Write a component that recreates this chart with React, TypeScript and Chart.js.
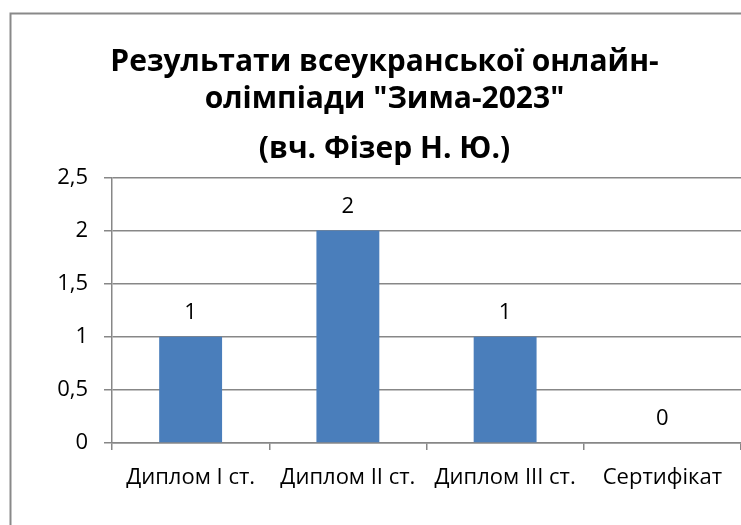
import React, { useEffect, useRef } from "react";
import { Chart, registerables } from "chart.js";

Chart.register(...registerables);

const categories = ["Диплом I ст.", "Диплом II ст.", "Диплом III ст.", "Сертифікат"];
const values = [1, 2, 1, 0];
const yTicks = [0, 0.5, 1, 1.5, 2, 2.5];
const titleLines = ["Результати всеукранської онлайн-", "олімпіади \"Зима-2023\""];
const subtitleLine = "(вч. Фізер Н. Ю.)";

const FONT = "'Open Sans', 'Noto Sans', sans-serif";
const TITLE_SIZE = 30;
const TICK_SIZE = 22;

const framePlugin = {
  id: "frame",
  beforeDraw(chart: any) {
    const ctx = chart.ctx;
    ctx.save();
    ctx.fillStyle = "#ffffff";
    ctx.fillRect(0, 0, chart.width, chart.height);
    ctx.strokeStyle = "#898989";
    ctx.lineWidth = 2;
    ctx.strokeRect(10.5, 13.5, chart.width + 50, chart.height + 50);
    ctx.restore();
  },
};

const valueLabelPlugin = {
  id: "valueLabels",
  afterDatasetsDraw(chart: any) {
    const ctx = chart.ctx;
    const meta = chart.getDatasetMeta(0);
    ctx.save();
    ctx.font = `${TICK_SIZE}px ${FONT}`;
    ctx.fillStyle = "#000000";
    ctx.textAlign = "center";
    ctx.textBaseline = "alphabetic";
    meta.data.forEach((bar: any, i: number) => {
      const v = chart.data.datasets[0].data[i];
      ctx.fillText(String(v).replace(".", ","), bar.x, bar.y - 18);
    });
    ctx.restore();
  },
};

export default function App() {
  const ref = useRef<HTMLCanvasElement | null>(null);

  useEffect(() => {
    if (!ref.current) return;
    const chart = new Chart(ref.current, {
      type: "bar",
      data: {
        labels: categories,
        datasets: [
          {
            data: values,
            backgroundColor: "#4A7EBB",
            borderWidth: 0,
            barPercentage: 0.4,
            categoryPercentage: 1,
          },
        ],
      },
      options: {
        animation: false,
        responsive: false,
        maintainAspectRatio: false,
        layout: { padding: { top: 0, left: 28, right: 0, bottom: 0 } },
        plugins: {
          legend: { display: false },
          tooltip: { enabled: false },
          title: {
            display: true,
            text: titleLines,
            color: "#000000",
            font: { family: FONT, size: TITLE_SIZE, weight: "bold", lineHeight: 37 / TITLE_SIZE },
            padding: { top: 44, bottom: 0 },
          },
          subtitle: {
            display: true,
            text: subtitleLine,
            color: "#000000",
            font: { family: FONT, size: TITLE_SIZE, weight: "bold", lineHeight: 37 / TITLE_SIZE },
            padding: { top: 13, bottom: 9.5 },
          },
        },
        scales: {
          x: {
            afterFit(scale: any) {
              scale.height = 82;
            },
            grid: {
              drawOnChartArea: false,
              drawTicks: true,
              tickLength: 7,
              color: "#878787",
              lineWidth: 1.5,
            },
            border: { color: "#878787", width: 1.5 },
            ticks: {
              color: "#000000",
              font: { family: FONT, size: TICK_SIZE },
              padding: 15,
              maxRotation: 0,
              autoSkip: false,
            },
          },
          y: {
            min: 0,
            max: 2.5,
            afterFit(scale: any) {
              scale.width = 84;
            },
            afterBuildTicks(scale: any) {
              scale.ticks = yTicks.map((v) => ({ value: v }));
            },
            grid: {
              color: "#878787",
              lineWidth: 1.5,
              tickLength: 8,
            },
            border: { color: "#878787", width: 1.5 },
            ticks: {
              color: "#000000",
              font: { family: FONT, size: TICK_SIZE },
              padding: 16,
              callback: (v: any) => String(v).replace(".", ","),
            },
          },
        },
      },
      plugins: [framePlugin, valueLabelPlugin],
    });
    return () => chart.destroy();
  }, []);

  return (
    <div style={{ position: "fixed", left: 0, top: 0, width: 741, height: 525, background: "#fff" }}>
      <canvas ref={ref} width={741} height={525} style={{ width: 741, height: 525 }} />
    </div>
  );
}
